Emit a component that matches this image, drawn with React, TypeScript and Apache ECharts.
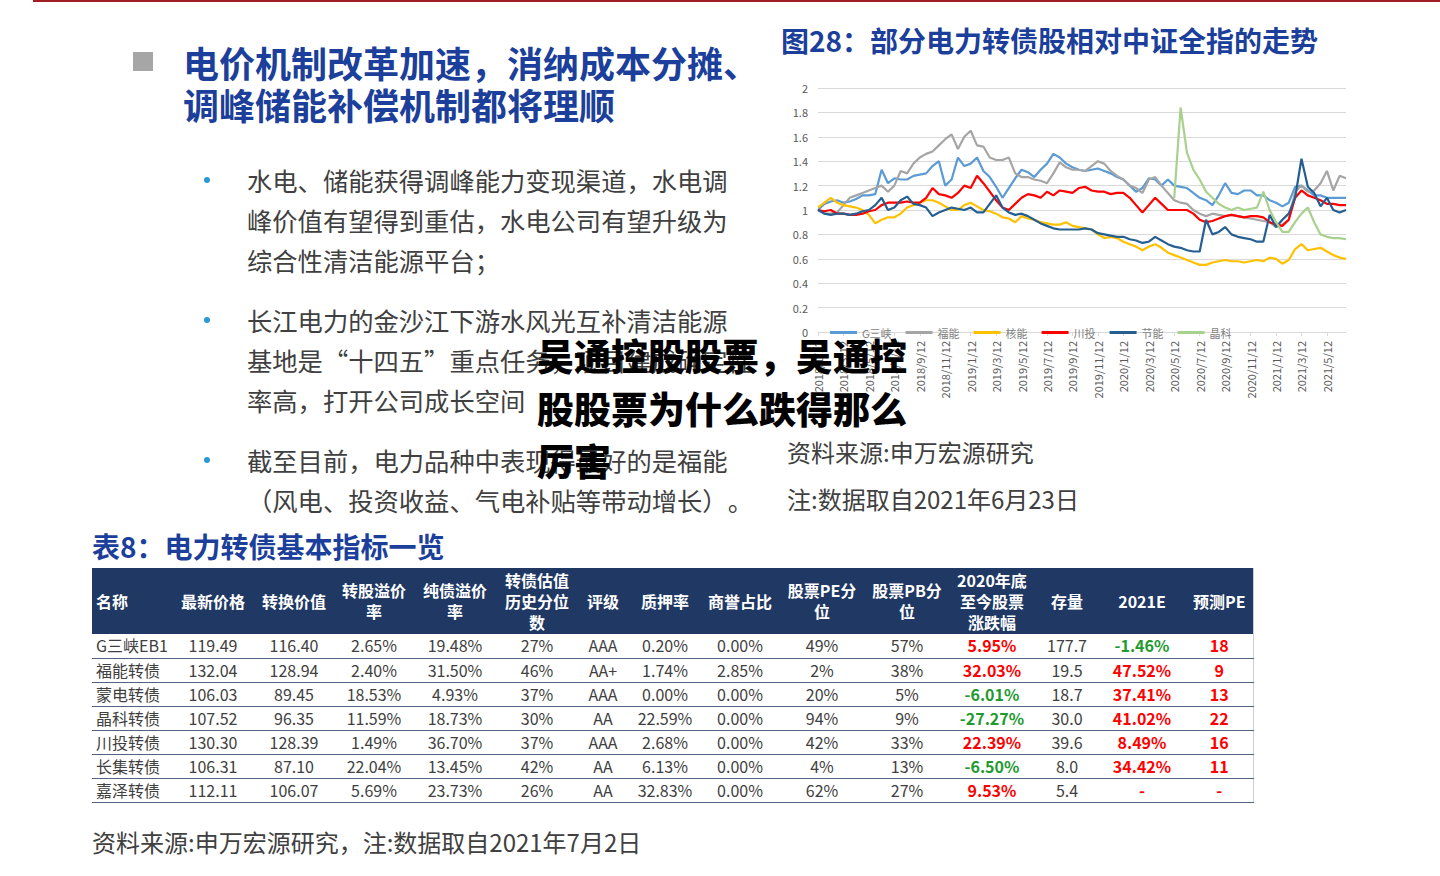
import React, { useEffect, useRef } from "react";
import * as echarts from "echarts";

// ---------------- chart data ----------------
const seriesNames = ["G三峡", "福能", "核能", "川投", "节能", "晶科"];
const seriesColors = ["#5B9BD5", "#A5A5A5", "#FFC000", "#FF0000", "#255E91", "#A9D18E"];

const g3xValues = [
  1.00, 1.05, 1.07, 1.08, 1.06, 1.07, 1.09, 1.12, 1.12, 1.13,
  1.33, 1.22, 1.26, 1.25, 1.25, 1.28, 1.29, 1.30, 1.36, 1.40,
  1.20, 1.25, 1.43, 1.36, 1.38, 1.43, 1.32, 1.27, 1.19, 1.10,
  1.18, 1.26, 1.33, 1.31, 1.27, 1.33, 1.38, 1.46, 1.43, 1.38,
  1.35, 1.33, 1.32, 1.33, 1.34, 1.32, 1.30, 1.27, 1.25, 1.20,
  1.15, 1.18, 1.26, 1.25, 1.20, 1.25, 1.20, 1.19, 1.18, 1.14,
  1.10, 1.08, 1.04, 1.12, 1.22, 1.14, 1.13, 1.16, 1.16, 1.12,
  1.12, 1.08, 1.06, 1.03, 1.06, 1.19, 1.20, 1.16, 1.12, 1.12,
  1.10, 1.10, 1.10, 1.10,
];
const funengValues = [
  1.00, 0.97, 0.97, 0.98, 1.04, 1.10, 1.12, 1.14, 1.16, 1.18,
  1.20, 1.15, 1.20, 1.32, 1.30, 1.38, 1.43, 1.46, 1.48, 1.53,
  1.58, 1.62, 1.50, 1.60, 1.65, 1.53, 1.52, 1.43, 1.41, 1.41,
  1.43, 1.30, 1.27, 1.27, 1.25, 1.24, 1.22, 1.30, 1.39, 1.35,
  1.33, 1.33, 1.32, 1.36, 1.40, 1.38, 1.32, 1.28, 1.25, 1.20,
  1.18, 1.14, 1.25, 1.27, 1.20, 1.14, 1.08, 1.06, 1.05, 1.00,
  0.97, 0.95, 0.97, 0.96, 0.95, 0.96, 0.95, 0.94, 0.93, 0.92,
  0.91, 0.90, 0.86, 0.88, 0.92, 1.15, 1.20, 1.15, 1.16, 1.22,
  1.32, 1.16, 1.28, 1.26,
];
const henengValues = [
  1.02, 1.06, 1.10, 1.06, 1.04, 1.03, 1.02, 1.00, 0.96, 0.89,
  0.92, 0.94, 0.94, 0.97, 1.02, 1.04, 1.06, 1.08, 1.08, 1.06,
  1.03, 1.00, 1.00, 1.04, 1.06, 1.03, 1.00, 0.99, 0.97, 0.94,
  0.93, 0.90, 0.95, 0.93, 0.92, 0.90, 0.89, 0.88, 0.88, 0.90,
  0.87, 0.86, 0.85, 0.84, 0.80, 0.77, 0.78, 0.77, 0.74, 0.72,
  0.70, 0.67, 0.70, 0.72, 0.69, 0.65, 0.63, 0.61, 0.59, 0.57,
  0.55, 0.55, 0.57, 0.58, 0.59, 0.58, 0.58, 0.57, 0.58, 0.59,
  0.58, 0.61, 0.60, 0.56, 0.59, 0.68, 0.72, 0.67, 0.68, 0.69,
  0.66, 0.63, 0.61, 0.60,
];
const chuantouValues = [
  1.00, 0.99, 1.00, 0.97, 0.97, 0.96, 0.96, 0.97, 0.99, 1.00,
  1.04, 1.06, 1.06, 1.06, 1.07, 1.06, 1.06, 1.10, 1.18, 1.13,
  1.12, 1.10, 1.14, 1.20, 1.18, 1.28, 1.22, 1.15, 1.08, 1.02,
  1.00, 1.05, 1.10, 1.13, 1.12, 1.10, 1.15, 1.12, 1.16, 1.15,
  1.14, 1.18, 1.19, 1.16, 1.15, 1.15, 1.13, 1.14, 1.14, 1.10,
  1.04, 0.98, 1.04, 1.10, 1.05, 1.00, 1.00, 1.00, 1.00, 0.97,
  0.92, 0.90, 0.91, 0.93, 0.95, 0.96, 0.95, 0.94, 0.95, 0.95,
  0.94, 0.90, 0.88, 0.87, 0.92, 1.10, 1.16, 1.12, 1.10, 1.08,
  1.05, 1.05, 1.04, 1.04,
];
const jienengValues = [
  1.00, 0.97, 0.96, 0.97, 0.97, 0.96, 0.97, 0.99, 1.00, 1.04,
  1.10, 1.00, 1.02, 1.08, 1.11, 1.05, 1.04, 1.02, 0.95, 0.98,
  1.00, 1.02, 1.01, 1.00, 1.02, 0.98, 0.98, 1.05, 1.12, 1.02,
  0.98, 0.96, 0.97, 0.95, 0.92, 0.89, 0.87, 0.85, 0.84, 0.84,
  0.84, 0.84, 0.85, 0.84, 0.81, 0.80, 0.79, 0.78, 0.78, 0.76,
  0.75, 0.73, 0.74, 0.78, 0.75, 0.72, 0.70, 0.69, 0.67, 0.66,
  0.66, 0.92, 0.80, 0.82, 0.86, 0.80, 0.78, 0.77, 0.76, 0.74,
  0.74, 0.96, 0.86, 0.92, 0.97, 1.10, 1.42, 1.19, 1.14, 1.03,
  1.10, 1.00, 0.98, 1.00,
];
// 晶科: listed from index 56 (2020/5/12) onward
const jinkeListedIndex = 56;
const jinkeValues = [
  1.10, 1.84, 1.47, 1.33, 1.25, 1.15, 1.10, 1.05, 1.02, 1.00,
  1.02, 1.00, 1.01, 1.02, 1.15, 1.00, 0.90, 0.82, 0.82, 0.90,
  0.97, 1.02, 0.90, 0.80, 0.78, 0.77, 0.77, 0.76,
];

const startYear = 2018;
const endLabelDay = 23;
const yMin = 0;
const yMax = 2;
const yStep = 0.2;

// ---------------- table data ----------------
const tableHeaders = [
  "名称", "最新价格", "转换价值", "转股溢价\n率", "纯债溢价\n率", "转债估值\n历史分位\n数", "评级", "质押率",
  "商誉占比", "股票PE分\n位", "股票PB分\n位", "2020年底\n至今股票\n涨跌幅", "存量", "2021E", "预测PE",
];
const bondNames = ["G三峡EB1", "福能转债", "蒙电转债", "晶科转债", "川投转债", "长集转债", "嘉泽转债"];
const latestPrice = ["119.49", "132.04", "106.03", "107.52", "130.30", "106.31", "112.11"];
const conversionValue = ["116.40", "128.94", "89.45", "96.35", "128.39", "87.10", "106.07"];
const conversionPremium = ["2.65%", "2.40%", "18.53%", "11.59%", "1.49%", "22.04%", "5.69%"];
const bondPremium = ["19.48%", "31.50%", "4.93%", "18.73%", "36.70%", "13.45%", "23.73%"];
const valuationPercentile = ["27%", "46%", "37%", "30%", "37%", "42%", "26%"];
const ratings = ["AAA", "AA+", "AAA", "AA", "AAA", "AA", "AA"];
const pledgeRatio = ["0.20%", "1.74%", "0.00%", "22.59%", "2.68%", "6.13%", "32.83%"];
const goodwillRatio = ["0.00%", "2.85%", "0.00%", "0.00%", "0.00%", "0.00%", "0.00%"];
const pePercentile = ["49%", "2%", "20%", "94%", "42%", "4%", "62%"];
const pbPercentile = ["57%", "38%", "5%", "9%", "33%", "13%", "27%"];
const stockChange = ["5.95%", "32.03%", "-6.01%", "-27.27%", "22.39%", "-6.50%", "9.53%"];
const outstanding = ["177.7", "19.5", "18.7", "30.0", "39.6", "8.0", "5.4"];
const growth2021E = ["-1.46%", "47.52%", "37.41%", "41.02%", "8.49%", "34.42%", "-"];
const forecastPE = ["18", "9", "13", "22", "16", "11", "-"];

const colWidths = [80, 82, 80, 80, 82, 82, 50, 74, 76, 88, 82, 88, 62, 88, 67];

const RED = "#FF0000";
const GREEN = "#1E9A2E";
const BLUE_TITLE = "#1B3F9A";
const TEXT = "#404040";
const FONT = '"Noto Sans CJK SC", "Noto Sans", sans-serif';

function buildDates(count: number): string[] {
  const out: string[] = [];
  for (let k = 0; k < count; k++) {
    const m = Math.floor(k / 2);
    const y = startYear + Math.floor(m / 12);
    const mo = (m % 12) + 1;
    const d = k === count - 1 ? endLabelDay : k % 2 === 0 ? 12 : 27;
    out.push(`${y}/${mo}/${d}`);
  }
  return out;
}

function signColor(v: string): string {
  if (v.trim() === "-") return RED;
  return v.startsWith("-") ? GREEN : RED;
}

const LineChart: React.FC = () => {
  const ref = useRef<HTMLDivElement>(null);
  useEffect(() => {
    if (!ref.current) return;
    const chart = echarts.init(ref.current, undefined, { renderer: "svg" });
    const dates = buildDates(g3xValues.length);
    const jinkeFull: (number | null)[] = [];
    for (let i = 0; i < dates.length; i++) {
      jinkeFull.push(i < jinkeListedIndex ? null : jinkeValues[i - jinkeListedIndex]);
    }
    const allData = [g3xValues, funengValues, henengValues, chuantouValues, jienengValues, jinkeFull];
    chart.setOption({
      animation: false,
      textStyle: { fontFamily: FONT },
      grid: { left: 48, right: 24, top: 13, bottom: 88, containLabel: false },
      legend: {
        left: 55,
        top: 247,
        icon: "rect",
        itemWidth: 27,
        itemHeight: 3,
        itemGap: 14,
        textStyle: { fontSize: 11, color: "#7F7F7F", fontFamily: FONT },
        data: seriesNames,
      },
      xAxis: {
        type: "category",
        data: dates,
        boundaryGap: false,
        axisLine: { lineStyle: { color: "#D9D9D9", width: 1 } },
        axisTick: { show: true, interval: 3, length: 4, lineStyle: { color: "#D9D9D9" } },
        axisLabel: { interval: 3, rotate: 90, color: "#595959", fontSize: 11, margin: 9, fontFamily: FONT },
        splitLine: { show: false },
      },
      yAxis: {
        type: "value",
        min: yMin,
        max: yMax,
        interval: yStep,
        axisLine: { show: false },
        axisTick: { show: false },
        axisLabel: { color: "#595959", fontSize: 11, margin: 10, fontFamily: FONT },
        splitLine: { lineStyle: { color: "#D9D9D9", width: 1 } },
      },
      series: seriesNames.map((name, i) => ({
        name,
        type: "line",
        data: allData[i],
        symbol: "none",
        showSymbol: false,
        connectNulls: false,
        lineStyle: { width: 2.2, color: seriesColors[i] },
        itemStyle: { color: seriesColors[i] },
      })),
    });
    return () => chart.dispose();
  }, []);
  return (
    <div
      ref={ref}
      style={{ position: "absolute", left: 770, top: 75, width: 600, height: 345, zIndex: 1 }}
    />
  );
};

const bulletParas: string[][] = [
  ["水电、储能获得调峰能力变现渠道，水电调", "峰价值有望得到重估，水电公司有望升级为", "综合性清洁能源平台；"],
  ["长江电力的金沙江下游水风光互补清洁能源", "基地是“十四五”重点任务，项目建成确定性", "率高，打开公司成长空间"],
  ["截至目前，电力品种中表现得最好的是福能", "（风电、投资收益、气电补贴等带动增长）。"],
];
const bulletTops = [160, 300, 440];

const overlayLines = ["吴通控股股票，吴通控", "股股票为什么跌得那么", "厉害"];

const noTrim: any = { textSpacingTrim: "space-all" };

export default function App() {
  useEffect(() => {
    document.body.style.margin = "0";
  }, []);

  const columns = [
    bondNames, latestPrice, conversionValue, conversionPremium, bondPremium, valuationPercentile, ratings,
    pledgeRatio, goodwillRatio, pePercentile, pbPercentile, stockChange, outstanding, growth2021E, forecastPE,
  ];

  return (
    <div
      style={{
        position: "fixed",
        left: 0,
        top: 0,
        width: 1440,
        height: 876,
        background: "#ffffff",
        overflow: "hidden",
        fontFamily: FONT,
        ...noTrim,
      }}
    >
      {/* top rule */}
      <div style={{ position: "absolute", left: 33, top: 0, width: 1407, height: 2, background: "#A31E22" }} />

      {/* heading */}
      <div style={{ position: "absolute", left: 133, top: 52, width: 20, height: 19, background: "#A6A6A6" }} />
      <div
        style={{
          position: "absolute",
          left: 183,
          top: 41,
          fontSize: 36,
          lineHeight: "42px",
          fontWeight: 700,
          color: BLUE_TITLE,
          whiteSpace: "nowrap",
          ...noTrim,
        }}
      >
        电价机制改革加速，消纳成本分摊、
        <br />
        调峰储能补偿机制都将理顺
      </div>

      {/* bullets */}
      {bulletParas.map((lines, i) => (
        <React.Fragment key={i}>
          <div
            style={{
              position: "absolute",
              left: 204,
              top: bulletTops[i] + 17,
              width: 6,
              height: 6,
              borderRadius: 3,
              background: "#2A9AD6",
            }}
          />
          <div
            style={{
              position: "absolute",
              left: 247,
              top: bulletTops[i],
              fontSize: 25.3,
              lineHeight: "40px",
              color: TEXT,
              whiteSpace: "nowrap",
              ...noTrim,
            }}
          >
            {lines.map((l, j) => (
              <div key={j}>{l}</div>
            ))}
          </div>
        </React.Fragment>
      ))}

      {/* chart title */}
      <div
        style={{
          position: "absolute",
          left: 781,
          top: 23,
          fontSize: 28,
          lineHeight: "34px",
          fontWeight: 700,
          color: BLUE_TITLE,
          whiteSpace: "nowrap",
          ...noTrim,
        }}
      >
        图28：部分电力转债股相对中证全指的走势
      </div>

      <LineChart />

      {/* chart notes */}
      <div style={{ position: "absolute", left: 787, top: 436, fontSize: 24, lineHeight: "32px", color: TEXT, whiteSpace: "nowrap" }}>
        资料来源:申万宏源研究
      </div>
      <div style={{ position: "absolute", left: 787, top: 483, fontSize: 24, lineHeight: "32px", color: TEXT, whiteSpace: "nowrap" }}>
        注:数据取自2021年6月23日
      </div>

      {/* overlay */}
      <div
        style={{
          position: "absolute",
          left: 537,
          top: 329,
          fontSize: 37,
          lineHeight: "52.5px",
          fontWeight: 900,
          color: "#000",
          whiteSpace: "nowrap",
          zIndex: 5,
          ...noTrim,
        }}
      >
        {overlayLines.map((l, i) => (
          <div key={i}>{l}</div>
        ))}
      </div>

      {/* table title */}
      <div
        style={{
          position: "absolute",
          left: 92,
          top: 529,
          fontSize: 28,
          lineHeight: "34px",
          fontWeight: 700,
          color: BLUE_TITLE,
          whiteSpace: "nowrap",
          ...noTrim,
        }}
      >
        表8：电力转债基本指标一览
      </div>

      {/* table */}
      <table
        style={{
          position: "absolute",
          left: 92,
          top: 568,
          width: 1161,
          borderCollapse: "collapse",
          tableLayout: "fixed",
          fontFamily: FONT,
          borderRight: "1px solid #C9CED8",
        }}
      >
        <colgroup>
          {colWidths.map((w, i) => (
            <col key={i} style={{ width: w }} />
          ))}
        </colgroup>
        <thead>
          <tr style={{ height: 66, background: "#1F3864" }}>
            {tableHeaders.map((h, i) => (
              <th
                key={i}
                style={{
                  color: "#fff",
                  fontWeight: 700,
                  fontSize: 16,
                  lineHeight: "21px",
                  padding: 0,
                  paddingLeft: i === 0 ? 4 : 0,
                  textAlign: i === 0 ? "left" : "center",
                  verticalAlign: "middle",
                  whiteSpace: "pre-line",
                }}
              >
                {h}
              </th>
            ))}
          </tr>
        </thead>
        <tbody>
          {bondNames.map((_, r) => (
            <tr key={r} style={{ height: 24 }}>
              {columns.map((col, c) => {
                const v = col[r];
                let color = TEXT;
                let weight = 400;
                if (c === 11 || c === 13) {
                  color = signColor(v);
                  weight = 700;
                } else if (c === 14) {
                  color = RED;
                  weight = 700;
                }
                return (
                  <td
                    key={c}
                    style={{
                      height: 23,
                      padding: 0,
                      paddingLeft: c === 0 ? 4 : 0,
                      fontSize: 16,
                      lineHeight: "23px",
                      color,
                      fontWeight: weight,
                      textAlign: c === 0 ? "left" : "center",
                      whiteSpace: "nowrap",
                      borderBottom: "1px solid #53627F",
                    }}
                  >
                    {v}
                  </td>
                );
              })}
            </tr>
          ))}
        </tbody>
      </table>

      {/* bottom note */}
      <div style={{ position: "absolute", left: 92, top: 826, fontSize: 24, lineHeight: "32px", color: TEXT, whiteSpace: "nowrap", ...noTrim }}>
        资料来源:申万宏源研究，注:数据取自2021年7月2日
      </div>
    </div>
  );
}
